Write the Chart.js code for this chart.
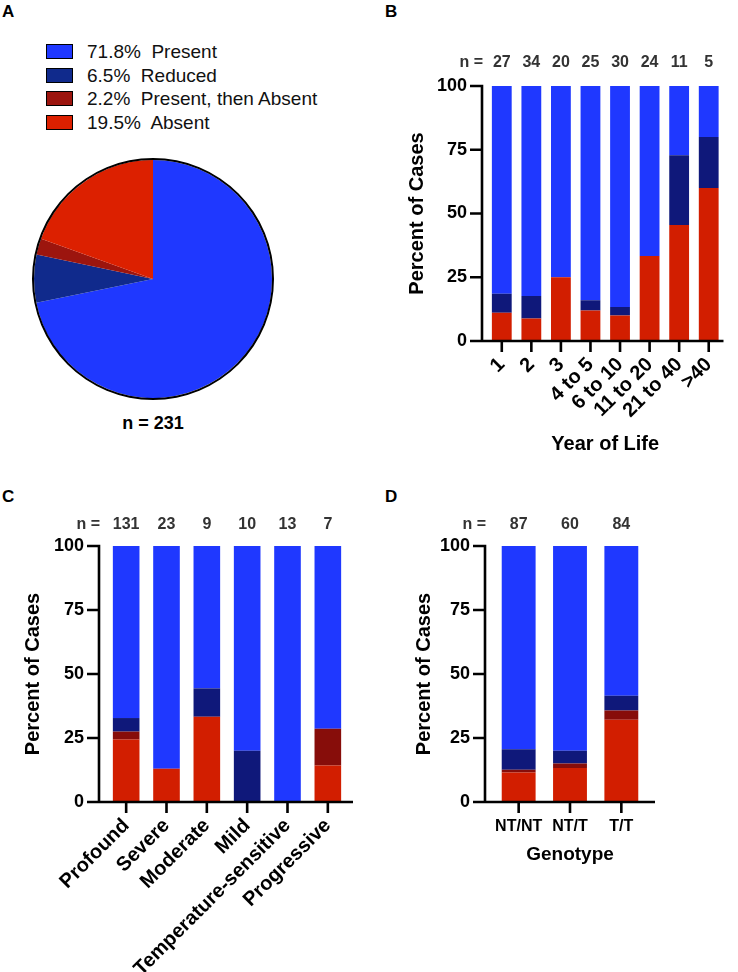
<!DOCTYPE html>
<html>
<head>
<meta charset="utf-8">
<script src="https://cdn.jsdelivr.net/npm/chart.js@4.4.1/dist/chart.umd.min.js"></script>
<style>
  body { margin: 0; background: #fff; width: 738px; height: 972px; position: relative; overflow: hidden;
         font-family: 'Liberation Sans', Arial, sans-serif; }
  canvas { position: absolute; }
  .tag { position: absolute; font-weight: bold; font-size: 17px; line-height: 20px; }
  .leg { position: absolute; left: 46px; height: 22px; line-height: 22px; font-size: 19px; white-space: pre; color: #111; }
  .leg span.box { display: inline-block; width: 27px; height: 15px; box-sizing: border-box; border: 1.5px solid #000;
                  vertical-align: -1px; margin-right: 14px; }
  .total { position: absolute; left: 53px; width: 200px; top: 412px; text-align: center; font-weight: bold; font-size: 18px; line-height: 22px; }
</style>
</head>
<body>
<div class="tag" style="left:2px;top:2px">A</div>
<div class="tag" style="left:385px;top:2px">B</div>
<div class="tag" style="left:2px;top:487px">C</div>
<div class="tag" style="left:385px;top:487px">D</div>
<div id="legend"></div>
<div class="total" id="total"></div>

<canvas id="pie" width="242" height="242" style="left:32px;top:158px"></canvas>
<canvas id="byYear" width="348" height="430" style="left:390px;top:40px"></canvas>
<canvas id="bySeverity" width="380" height="472" style="left:0px;top:500px"></canvas>
<canvas id="byGenotype" width="348" height="472" style="left:390px;top:500px"></canvas>

<script>
// ---- data ----
const outcomeLabels = ['Present', 'Reduced', 'Present, then Absent', 'Absent'];
const pieValues = [71.8, 6.5, 2.2, 19.5];
const pieTotal = 231;

const yearLabels = ['1', '2', '3', '4 to 5', '6 to 10', '11 to 20', '21 to 40', '>40'];
const yearN = [27, 34, 20, 25, 30, 24, 11, 5];
const yearAbsent = [11.1, 8.8, 25.0, 12.0, 10.0, 33.3, 45.5, 60.0];
const yearPtA = [0, 0, 0, 0, 0, 0, 0, 0];
const yearReduced = [7.4, 8.8, 0, 4.0, 3.3, 0, 27.3, 20.0];
const yearPresent = [81.5, 82.4, 75.0, 84.0, 86.7, 66.7, 27.2, 20.0];

const sevLabels = ['Profound', 'Severe', 'Moderate', 'Mild', 'Temperature-sensitive', 'Progressive'];
const sevN = [131, 23, 9, 10, 13, 7];
const sevAbsent = [24.4, 13.0, 33.3, 0, 0, 14.3];
const sevPtA = [3.1, 0, 0, 0, 0, 14.3];
const sevReduced = [5.3, 0, 11.1, 20.0, 0, 0];
const sevPresent = [67.2, 87.0, 55.6, 80.0, 100, 71.4];

const genoLabels = ['NT/NT', 'NT/T', 'T/T'];
const genoN = [87, 60, 84];
const genoAbsent = [11.5, 13.3, 32.1];
const genoPtA = [1.1, 1.7, 3.6];
const genoReduced = [8.0, 5.0, 5.8];
const genoPresent = [79.4, 80.0, 58.5];

const FONT = "'Liberation Sans', Arial, sans-serif";
const pieColors = ['#1f38ff', '#102a8c', '#9c150e', '#dc2000'];
const barColors = { present: '#1f38ff', reduced: '#0f187a', pta: '#870d0a', absent: '#d21e00' };

Chart.defaults.font.family = FONT;
Chart.defaults.color = '#000';

// ---- panel A: legend + pie ----
const legend = document.getElementById('legend');
outcomeLabels.forEach((lab, i) => {
  const row = document.createElement('div');
  row.className = 'leg';
  row.style.top = (41 + i * 23.7) + 'px';
  row.innerHTML = '<span class="box" style="background:' + pieColors[i] + '"></span>' +
                  pieValues[i].toFixed(1) + '%  ' + lab;
  legend.appendChild(row);
});
document.getElementById('total').textContent = 'n = ' + pieTotal;

// the black rim is a thin outer ring (dataset 0 is the outermost one)
new Chart(document.getElementById('pie'), {
  type: 'pie',
  data: {
    labels: outcomeLabels,
    datasets: [
      { label: 'rim', data: [1], backgroundColor: ['#000'], borderWidth: 0, weight: 2 },
      { label: 'cases', data: pieValues, backgroundColor: pieColors, borderWidth: 0, weight: 119 }
    ]
  },
  options: {
    responsive: false,
    animation: false,
    layout: { padding: 0 },
    plugins: { legend: { display: false }, tooltip: { enabled: false } }
  }
});

// ---- panels B-D: stacked bars ----
// draws the Prism-style axes (offset from the bars), tick marks and the n = row
const prismAxes = {
  id: 'prismAxes',
  afterDraw(chart, args, opts) {
    const { ctx, chartArea, scales } = chart;
    const x0 = chartArea.left - opts.gap;
    const yb = chartArea.bottom;
    ctx.save();
    ctx.strokeStyle = '#000';
    ctx.lineWidth = 2.6;
    ctx.beginPath();
    ctx.moveTo(x0, chartArea.top - 1.3);
    ctx.lineTo(x0, yb);
    ctx.lineTo(chartArea.right + opts.extend, yb);
    scales.y.ticks.forEach(t => {
      const py = scales.y.getPixelForValue(t.value);
      ctx.moveTo(x0 - 12, py);
      ctx.lineTo(x0, py);
    });
    scales.x.ticks.forEach((t, i) => {
      const px = scales.x.getPixelForTick(i);
      ctx.moveTo(px, yb);
      ctx.lineTo(px, yb + 11);
    });
    ctx.stroke();

    const ny = chartArea.top - opts.nOffset;
    ctx.fillStyle = '#333';
    ctx.font = 'bold 16px ' + FONT;
    ctx.textBaseline = 'middle';
    ctx.textAlign = 'right';
    ctx.fillText('n =', x0 + 1, ny);
    ctx.textAlign = 'center';
    opts.counts.forEach((n, i) => ctx.fillText(String(n), scales.x.getPixelForTick(i), ny));
    ctx.restore();
  }
};

function stackedChart(id, labels, counts, absent, pta, reduced, present, cfg) {
  return new Chart(document.getElementById(id), {
    type: 'bar',
    data: {
      labels: labels,
      datasets: [
        { label: 'Absent', data: absent, backgroundColor: barColors.absent },
        { label: 'Present, then Absent', data: pta, backgroundColor: barColors.pta },
        { label: 'Reduced', data: reduced, backgroundColor: barColors.reduced },
        { label: 'Present', data: present, backgroundColor: barColors.present }
      ]
    },
    options: {
      responsive: false,
      animation: false,
      layout: { padding: { top: 46, right: cfg.right, left: 0, bottom: 0 } },
      datasets: { bar: { categoryPercentage: 1, barPercentage: cfg.bar, borderWidth: 0 } },
      scales: {
        x: {
          stacked: true,
          afterFit: s => { s.height = cfg.xHeight; },
          border: { display: false },
          grid: { display: false, drawTicks: false },
          ticks: {
            autoSkip: false, maxRotation: cfg.rot, minRotation: cfg.rot, color: '#000',
            padding: cfg.xTickPad, font: { size: cfg.xTickSize, weight: 'bold' }
          },
          title: {
            display: !!cfg.xTitle, text: cfg.xTitle || '', color: '#000',
            font: { size: cfg.xTitleSize, weight: 'bold' }, padding: { top: 0, bottom: cfg.xTitlePad }
          }
        },
        y: {
          stacked: true,
          min: 0, max: 100,
          afterFit: s => { s.width = cfg.yWidth; },
          border: { display: false },
          grid: { display: false, drawTicks: false },
          ticks: { stepSize: 25, color: '#000', padding: cfg.gap + 15, font: { size: 18, weight: 'bold' } },
          title: {
            display: true, text: 'Percent of Cases', color: '#000',
            font: { size: 20, weight: 'bold' }, padding: { top: cfg.yTitlePad, bottom: 0 }
          }
        }
      },
      plugins: {
        legend: { display: false },
        tooltip: { enabled: false },
        prismAxes: { gap: cfg.gap, extend: cfg.extend, nOffset: cfg.nOffset, counts: counts }
      }
    },
    plugins: [prismAxes]
  });
}

stackedChart('byYear', yearLabels, yearN, yearAbsent, yearPtA, yearReduced, yearPresent, {
  right: 5, yWidth: 97, xHeight: 129, gap: 5, extend: 0, bar: 0.67, rot: 45,
  xTickSize: 20, xTickPad: 12, xTitle: 'Year of Life', xTitleSize: 20, xTitlePad: 14,
  yTitlePad: 15, nOffset: 23
});

stackedChart('bySeverity', sevLabels, sevN, sevAbsent, sevPtA, sevReduced, sevPresent, {
  right: 32, yWidth: 106, xHeight: 170, gap: 7, extend: 5, bar: 0.66, rot: 45,
  xTickSize: 20, xTickPad: 12, xTitle: '', xTitleSize: 20, xTitlePad: 0,
  yTitlePad: 21, nOffset: 21
});

stackedChart('byGenotype', genoLabels, genoN, genoAbsent, genoPtA, genoReduced, genoPresent, {
  right: 91, yWidth: 103, xHeight: 170, gap: 8, extend: 8, bar: 0.66, rot: 0,
  xTickSize: 16, xTickPad: 15, xTitle: 'Genotype', xTitleSize: 19, xTitlePad: 106,
  yTitlePad: 22, nOffset: 21
});
</script>
</body>
</html>
